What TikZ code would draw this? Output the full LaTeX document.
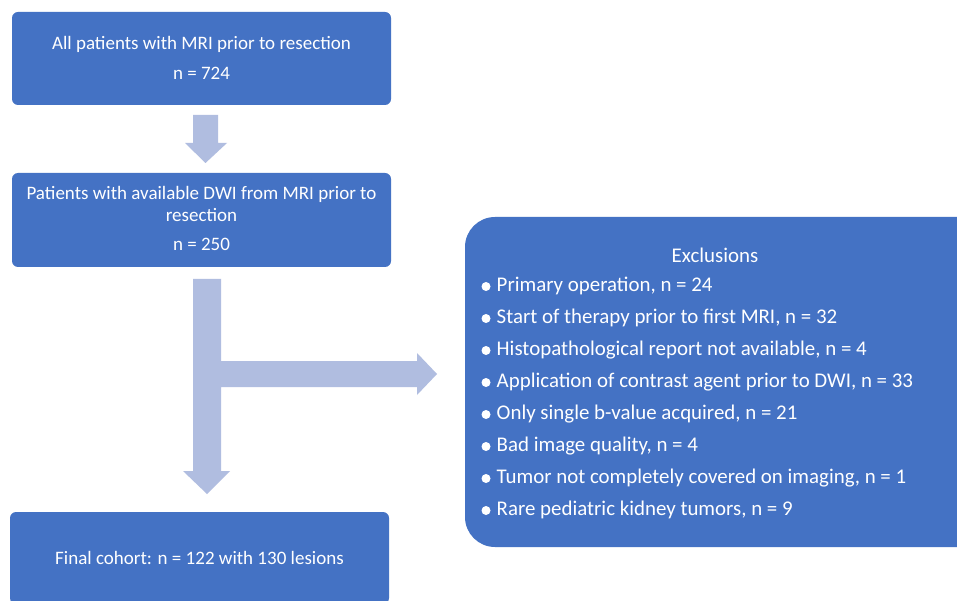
\documentclass[tikz,border=0pt]{standalone}
\usepackage{fontspec}
\setmainfont{Carlito}
\definecolor{boxblue}{HTML}{4472C4}
\definecolor{arrowblue}{HTML}{B0BDE0}
\begin{document}
\begin{tikzpicture}[x=1pt,y=-1pt,
  box/.style={fill=boxblue, rounded corners=6pt, text=white, align=center, inner sep=0pt},
  txt/.style={text=white, inner sep=0pt, font=\fontsize{19}{22}\selectfont},
  etxt/.style={text=white, inner sep=0pt, font=\fontsize{20.9}{24}\selectfont},
  dot/.style={circle, fill=white, minimum size=9pt, inner sep=0pt},
  blockarrow/.style={fill=arrowblue, draw=none}]
\useasboundingbox (0,0) rectangle (957,601);
\clip (0,0) rectangle (957,601);
\fill[white] (0,0) rectangle (957,601);
% boxes
\node[box, minimum width=379pt, minimum height=93pt] (b1) at (201.5,58.5) {};
\node[txt] (b1a) at (201.5,44) {All patients with MRI prior to resection};
\node[txt] (b1b) at (201.5,73) {n = 724};
\node[box, minimum width=379pt, minimum height=94pt] (b2) at (201.5,220) {};
\node[txt] (b2a) at (201.5,194) {Patients with available DWI from MRI prior to};
\node[txt] (b2b) at (201.5,215) {resection};
\node[txt] (b2c) at (201.5,244) {n = 250};
\node[box, minimum width=379pt, minimum height=92pt] (b3) at (199.5,558) {};
\node[txt] (b3a) at (199.5,558) {Final cohort: n = 122 with 130 lesions};
\node[box, rounded corners=30pt, minimum width=530pt, minimum height=330pt] (ex) at (730,382) {};
\node[etxt] (ext) at (715,255) {Exclusions};
\foreach \i/\t in {1/{Primary operation, n = 24},
  2/{Start of therapy prior to first MRI, n = 32},
  3/{Histopathological report not available, n = 4},
  4/{Application of contrast agent prior to DWI, n = 33},
  5/{Only single b-value acquired, n = 21},
  6/{Bad image quality, n = 4},
  7/{Tumor not completely covered on imaging, n = 1},
  8/{Rare pediatric kidney tumors, n = 9}}{
  \node[dot] (d\i) at (486,254.5+32*\i) {};
  \node[etxt, anchor=west] (e\i) at (496.5,254+32*\i) {\t};
}
% arrow 1
\fill[blockarrow] (193,115) -- (218,115) -- (218,143) -- (227,143) -- (205.5,163) -- (185,143) -- (193,143) -- cycle;
% T arrow
\fill[blockarrow] (193,279) -- (221,279) -- (221,361) -- (417,361) -- (417,353) -- (437,374) -- (417,395) -- (417,387) -- (221,387) -- (221,471) -- (230,471) -- (207,494) -- (183,471) -- (193,471) -- cycle;
\end{tikzpicture}
\end{document}
